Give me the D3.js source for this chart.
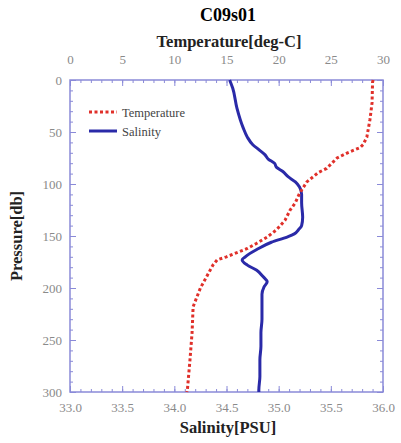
<!DOCTYPE html>
<html>
<head>
<meta charset="utf-8">
<script src="https://cdn.jsdelivr.net/npm/d3@7"></script>
<style>
  body { margin: 0; background: #fff; }
  text { font-family: "Liberation Serif", "DejaVu Serif", serif; }
</style>
</head>
<body>
<script>
// temperature profile
const tempPressure = [0, 2, 22, 38, 55, 62, 65, 70, 75, 85, 89, 98, 109, 118, 125, 135, 144, 151, 157, 162, 166, 170, 173, 178, 189, 200, 218, 243, 269, 298, 300];
const tempValues   = [29.05, 29.0, 28.95, 28.75, 28.45, 28.1, 27.8, 26.6, 25.6, 24.6, 23.8, 22.7, 22.0, 21.6, 21.1, 20.6, 19.8, 18.9, 17.9, 17.0, 16.0, 15.0, 14.1, 13.7, 13.1, 12.5, 11.8, 11.7, 11.5, 11.25, 11.2];

// salinity profile
const salPressure = [0, 8, 27, 46, 55, 62, 67, 72, 76, 80, 84, 88, 93, 98, 103, 110, 118, 132, 140, 144, 148, 151, 156, 163, 170, 173, 178, 183, 189, 194, 199, 206, 214, 230, 243, 256, 269, 285, 298, 300];
const salValues   = [34.53, 34.56, 34.60, 34.66, 34.70, 34.75, 34.81, 34.87, 34.90, 34.96, 34.98, 35.04, 35.09, 35.16, 35.20, 35.22, 35.22, 35.23, 35.22, 35.19, 35.15, 35.08, 34.93, 34.79, 34.68, 34.65, 34.70, 34.79, 34.85, 34.89, 34.86, 34.84, 34.84, 34.84, 34.83, 34.83, 34.82, 34.82, 34.81, 34.81];

const tempTicks = [0, 5, 10, 15, 20, 25, 30];
const salTicks = [33.0, 33.5, 34.0, 34.5, 35.0, 35.5, 36.0];
const presTicks = [0, 50, 100, 150, 200, 250, 300];

const w = 401, h = 443;
const pLeft = 70, pRight = 383, pTop = 80, pBottom = 392;
const frameColor = "#8a8ad8";

const svg = d3.select("body").append("svg")
  .attr("width", w)
  .attr("height", h);

const tScale = d3.scaleLinear().domain([0, 30]).range([pLeft, pRight]);
const sScale = d3.scaleLinear().domain([33, 36]).range([pLeft, pRight]);
const yScale = d3.scaleLinear().domain([0, 300]).range([pTop, pBottom]);

// frame
svg.append("rect")
  .attr("x", pLeft).attr("y", pTop)
  .attr("width", pRight - pLeft).attr("height", pBottom - pTop)
  .attr("fill", "none")
  .attr("stroke", frameColor)
  .attr("stroke-width", 1.5);

// axes with inward ticks
function styleAxis(g) {
  g.select(".domain").remove();
  g.selectAll("line").attr("stroke", frameColor);
  g.selectAll("text")
    .attr("fill", "#8a8a8a")
    .style("font-size", "13px")
    .style("font-family", "'Liberation Serif', serif");
}

function minor(step, lo, hi) {
  return d3.range(lo, hi + step / 2, step).map(v => +v.toFixed(3));
}

// top: temperature
svg.append("g")
  .attr("transform", "translate(0," + pTop + ")")
  .call(d3.axisTop(tScale).tickValues(minor(1, 0, 30)).tickSize(-3).tickFormat(""))
  .call(styleAxis);
svg.append("g")
  .attr("transform", "translate(0," + pTop + ")")
  .call(d3.axisTop(tScale).tickValues(tempTicks).tickSize(-6).tickPadding(16).tickFormat(d3.format("d")))
  .call(styleAxis);

// bottom: salinity
svg.append("g")
  .attr("transform", "translate(0," + pBottom + ")")
  .call(d3.axisBottom(sScale).tickValues(minor(0.1, 33, 36)).tickSize(-3).tickFormat(""))
  .call(styleAxis);
svg.append("g")
  .attr("transform", "translate(0," + pBottom + ")")
  .call(d3.axisBottom(sScale).tickValues(salTicks).tickSize(-6).tickPadding(11).tickFormat(d3.format(".1f")))
  .call(styleAxis);

// left: pressure
svg.append("g")
  .attr("transform", "translate(" + pLeft + ",0)")
  .call(d3.axisLeft(yScale).tickValues(minor(10, 0, 300)).tickSize(-3).tickFormat(""))
  .call(styleAxis);
svg.append("g")
  .attr("transform", "translate(" + pLeft + ",0)")
  .call(d3.axisLeft(yScale).tickValues(presTicks).tickSize(-6).tickPadding(8).tickFormat(d3.format("d")))
  .call(styleAxis);

// right: pressure ticks only
svg.append("g")
  .attr("transform", "translate(" + pRight + ",0)")
  .call(d3.axisRight(yScale).tickValues(minor(10, 0, 300)).tickSize(-3).tickFormat(""))
  .call(styleAxis);
svg.append("g")
  .attr("transform", "translate(" + pRight + ",0)")
  .call(d3.axisRight(yScale).tickValues(presTicks).tickSize(-6).tickFormat(""))
  .call(styleAxis);

// profiles
const tempLine = d3.line()
  .x((d, i) => tScale(tempValues[i]))
  .y((d, i) => yScale(tempPressure[i]));
const salLine = d3.line()
  .x((d, i) => sScale(salValues[i]))
  .y((d, i) => yScale(salPressure[i]))
  .curve(d3.curveMonotoneY);

svg.append("path")
  .attr("d", salLine(salPressure))
  .attr("fill", "none")
  .attr("stroke", "#2a2aa8")
  .attr("stroke-width", 3)
  .attr("stroke-linejoin", "round");

svg.append("path")
  .attr("d", tempLine(tempPressure))
  .attr("fill", "none")
  .attr("stroke", "#e0302a")
  .attr("stroke-width", 3)
  .attr("stroke-dasharray", "3,2.5");

// legend
const legend = svg.append("g");
legend.append("line")
  .attr("x1", 89).attr("x2", 117).attr("y1", 112).attr("y2", 112)
  .attr("stroke", "#e0302a").attr("stroke-width", 3).attr("stroke-dasharray", "3,2.5");
legend.append("text")
  .attr("x", 122).attr("y", 116.5)
  .attr("fill", "#444").style("font-size", "12.5px")
  .text("Temperature");
legend.append("line")
  .attr("x1", 89).attr("x2", 117).attr("y1", 131).attr("y2", 131)
  .attr("stroke", "#2a2aa8").attr("stroke-width", 3);
legend.append("text")
  .attr("x", 122).attr("y", 135.5)
  .attr("fill", "#444").style("font-size", "12.5px")
  .text("Salinity");

// titles
svg.append("text")
  .text("C09s01")
  .attr("x", 228).attr("y", 21)
  .attr("text-anchor", "middle")
  .style("font-size", "18px").style("font-weight", "bold");

svg.append("text")
  .text("Temperature[deg-C]")
  .attr("x", 229).attr("y", 47)
  .attr("text-anchor", "middle")
  .style("font-size", "16.5px").style("font-weight", "bold")
  .attr("fill", "#222");

svg.append("text")
  .text("Salinity[PSU]")
  .attr("x", 228).attr("y", 433)
  .attr("text-anchor", "middle")
  .style("font-size", "16.5px").style("font-weight", "bold")
  .attr("fill", "#222");

svg.append("text")
  .text("Pressure[db]")
  .attr("transform", "translate(22," + (pTop + pBottom) / 2 + ") rotate(-90)")
  .attr("text-anchor", "middle")
  .style("font-size", "16.5px").style("font-weight", "bold")
  .attr("fill", "#222");
</script>
</body>
</html>
